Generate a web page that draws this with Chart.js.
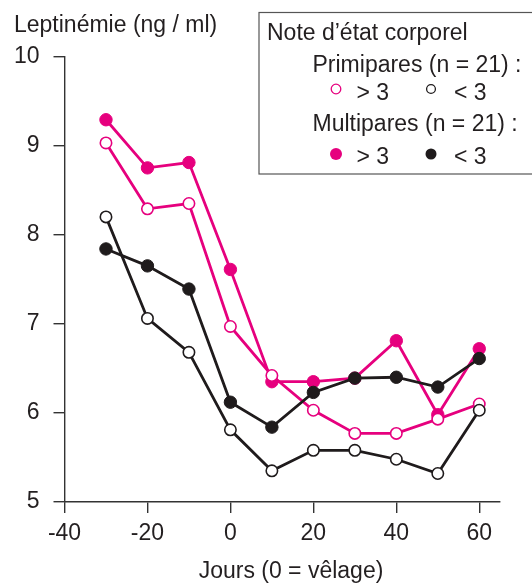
<!DOCTYPE html>
<html>
<head>
<meta charset="utf-8">
<script src="https://cdn.jsdelivr.net/npm/chart.js@4"></script>
<style>
  html, body { margin: 0; padding: 0; background: #fff; }
  canvas { display: block; }
</style>
</head>
<body>
<canvas id="leptine" width="532" height="583"></canvas>
<script>
// --- données ---
const jours = [-30, -20, -10, 0, 10, 20, 30, 40, 50, 60];
const primiHaut  = [9.03, 8.29, 8.35, 6.97, 6.42, 6.03, 5.77, 5.77, 5.93, 6.10]; // primipares NEC > 3
const primiBas   = [8.20, 7.06, 6.68, 5.81, 5.35, 5.58, 5.58, 5.48, 5.32, 6.03]; // primipares NEC < 3
const multiHaut  = [9.29, 8.75, 8.81, 7.61, 6.35, 6.35, 6.39, 6.81, 5.98, 6.72]; // multipares NEC > 3
const multiBas   = [7.84, 7.65, 7.39, 6.12, 5.84, 6.23, 6.39, 6.40, 6.29, 6.61]; // multipares NEC < 3

const xTicks = [-40, -20, 0, 20, 40, 60];
const yTicks = [5, 6, 7, 8, 9, 10];

const yTitle = 'Leptinémie (ng / ml)';
const xTitle = 'Jours (0 = vêlage)';
const legendTitle = 'Note d’état corporel';
const groupLabels = ['Primipares (n = 21) :', 'Multipares (n = 21) :'];
const classLabels = ['> 3', '< 3'];

const MAGENTA = '#e6007e';
const NOIR = '#1f1b1c';
const TEXTE = '#231f20';
const FONT = '"Liberation Sans", Arial, sans-serif';
const TAILLE = 23;

const toPts = arr => arr.map((v, i) => ({ x: jours[i], y: v }));

function serie(label, values, color, filled) {
  return {
    label: label,
    data: toPts(values),
    borderColor: color,
    borderWidth: 2.8,
    pointRadius: filled ? 6.2 : 5.7,
    pointBorderWidth: filled ? 1 : 1.6,
    pointBorderColor: color,
    pointBackgroundColor: filled ? color : '#fff',
    tension: 0,
    fill: false
  };
}

// titres + légende dessinés à la main (mise en page non standard)
const decor = {
  id: 'decor',
  afterDraw(chart) {
    const ctx = chart.ctx;
    ctx.save();
    ctx.fillStyle = TEXTE;
    ctx.font = TAILLE + 'px ' + FONT;
    ctx.textBaseline = 'alphabetic';
    ctx.textAlign = 'left';
    ctx.fillText(yTitle, 14, 31.5);
    ctx.textAlign = 'center';
    ctx.fillText(xTitle, 291, 578);

    // cadre de légende
    ctx.strokeStyle = '#555';
    ctx.lineWidth = 1.2;
    ctx.fillStyle = '#fff';
    ctx.fillRect(259, 12.5, 290, 161.5);
    ctx.strokeRect(259, 12.5, 290, 161.5);

    ctx.fillStyle = TEXTE;
    ctx.textAlign = 'left';
    ctx.fillText(legendTitle, 267, 40);
    ctx.fillText(groupLabels[0], 312.5, 71.5);
    ctx.fillText(groupLabels[1], 312.5, 130.5);

    const rows = [
      { y: 89, filled: false, base: 99.5 },
      { y: 154, filled: true, base: 163.5 }
    ];
    rows.forEach(r => {
      [[336, MAGENTA, 356.5, classLabels[0]], [431, NOIR, 454, classLabels[1]]].forEach(([cx, col, tx, txt]) => {
        ctx.beginPath();
        if (r.filled) {
          ctx.arc(cx, r.y, col === MAGENTA ? 6 : 5.5, 0, Math.PI * 2);
          ctx.fillStyle = col;
          ctx.fill();
        } else {
          ctx.arc(cx, r.y, col === MAGENTA ? 4.8 : 4.4, 0, Math.PI * 2);
          ctx.strokeStyle = col;
          ctx.lineWidth = 1.3;
          ctx.stroke();
        }
        ctx.fillStyle = TEXTE;
        ctx.fillText(txt, tx, r.base);
      });
    });
    ctx.restore();
  }
};

const axeCommun = {
  grid: { drawOnChartArea: false, drawTicks: true, tickLength: 11, color: '#333', lineWidth: 1.4 },
  border: { display: true, color: '#333', width: 1.4 },
  title: { display: false }
};

new Chart(document.getElementById('leptine'), {
  type: 'line',
  data: {
    datasets: [
      serie('Primipares < 3', primiBas, NOIR, false),
      serie('Multipares < 3', multiBas, NOIR, true),
      serie('Primipares > 3', primiHaut, MAGENTA, false),
      serie('Multipares > 3', multiHaut, MAGENTA, true)
    ]
  },
  options: {
    responsive: false,
    animation: false,
    devicePixelRatio: 1,
    layout: { padding: { top: 56.5, right: 32, left: 0, bottom: 0 } },
    plugins: { legend: { display: false }, tooltip: { enabled: false } },
    scales: {
      x: {
        ...axeCommun,
        type: 'linear',
        min: -40,
        max: 65,
        afterBuildTicks: s => { s.ticks = xTicks.map(v => ({ value: v })); },
        afterFit: s => { s.height = 81; },
        ticks: { font: { family: FONT, size: TAILLE }, color: TEXTE, padding: 7, maxRotation: 0 }
      },
      y: {
        ...axeCommun,
        type: 'linear',
        min: 5,
        max: 10,
        afterBuildTicks: s => { s.ticks = yTicks.map(v => ({ value: v })); },
        afterFit: s => { s.width = 64.5; },
        ticks: { font: { family: FONT, size: TAILLE }, color: TEXTE, padding: 14 }
      }
    }
  },
  plugins: [decor]
});
</script>
</body>
</html>
